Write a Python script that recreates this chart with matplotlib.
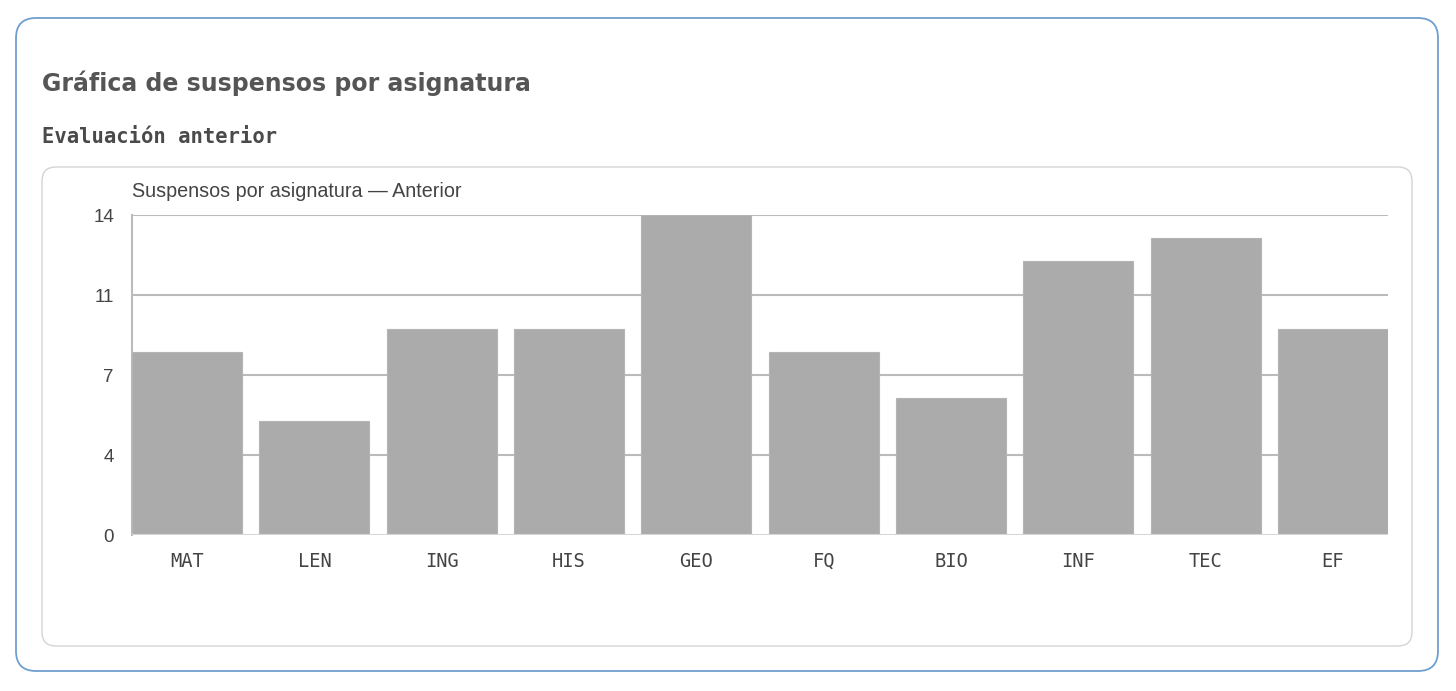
import numpy as np
import matplotlib.pyplot as plt
from matplotlib.patches import FancyBboxPatch

# --- Data ---
asignaturas = ['MAT', 'LEN', 'ING', 'HIS', 'GEO', 'FQ', 'BIO', 'INF', 'TEC', 'EF']
suspensos = [8, 5, 9, 9, 14, 8, 6, 12, 13, 9]
y_ticks = [0, 3.5, 7, 10.5, 14]
y_tick_labels = ['0', '4', '7', '11', '14']

W, H = 1456, 691
fig = plt.figure(figsize=(W / 100, H / 100), dpi=100)
fig.patch.set_facecolor('white')

# --- Background card (pixel coords) ---
bg = fig.add_axes([0, 0, 1, 1], zorder=0)
bg.set_xlim(0, W)
bg.set_ylim(H, 0)
bg.axis('off')

outer = FancyBboxPatch((16, 18), 1422, 653, boxstyle='round,pad=0,rounding_size=20',
                       fc='white', ec='#6f9fcf', lw=1.3)
bg.add_patch(outer)
inner = FancyBboxPatch((42, 167), 1370, 479, boxstyle='round,pad=0,rounding_size=14',
                       fc='white', ec='#d4d4d4', lw=1.0)
bg.add_patch(inner)

bg.text(42, 83, 'Gráfica de suspensos por asignatura', fontsize=17, fontweight='bold',
        color='#555555', family='DejaVu Sans', va='center', ha='left')
bg.text(42, 137, 'Evaluación anterior', fontsize=14.8, fontweight='bold',
        color='#4a4a4a', family='DejaVu Sans Mono', va='center', ha='left')
bg.text(132, 191, 'Suspensos por asignatura — Anterior', fontsize=14.2,
        color='#444444', family='Liberation Sans', va='center', ha='left')

# --- Bar chart ---
left, right, top, bottom = 132, 1388, 215, 535
ax = fig.add_axes([left / W, 1 - bottom / H, (right - left) / W, (bottom - top) / H], zorder=1)
ax.patch.set_alpha(0)

bar_w = 0.865
x = np.arange(len(asignaturas))
ax.bar(x, suspensos, width=bar_w, color='#ababab', edgecolor='#b4b4b4', lw=0.8, zorder=3)
ax.set_xlim(-bar_w / 2, len(asignaturas) - 1 + bar_w / 2)
ax.set_ylim(0, 14)

ax.set_yticks(y_ticks)
ax.set_yticklabels(y_tick_labels, fontsize=13.5, color='#444444', family='Liberation Sans')
ax.set_xticks(x)
ax.set_xticklabels(asignaturas, fontsize=13.5, color='#444444', family='DejaVu Sans Mono')
ax.tick_params(axis='both', length=0)
ax.tick_params(axis='y', pad=13)
ax.tick_params(axis='x', pad=12)

for yt in y_ticks[1:]:
    ax.axhline(yt, color='#bbbbbb', lw=1.5, zorder=1)
ax.axhline(0, color='#d6d6d6', lw=1.5, zorder=4)

for s in ['top', 'right', 'bottom']:
    ax.spines[s].set_visible(False)
ax.spines['left'].set_color('#bbbbbb')
ax.spines['left'].set_linewidth(1.5)
ax.spines['left'].set_zorder(2)

fig.savefig('out.png', dpi=100, facecolor='white')
